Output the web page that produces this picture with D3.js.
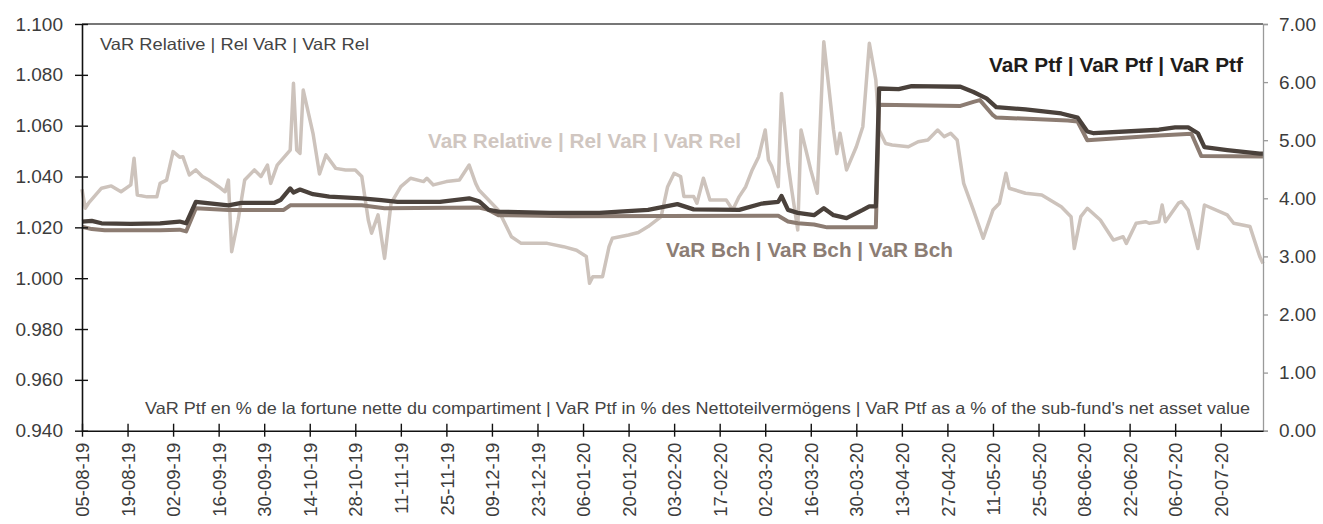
<!DOCTYPE html>
<html><head><meta charset="utf-8">
<script src="https://cdn.jsdelivr.net/npm/d3@7"></script>
<style>body{margin:0;background:#fff} svg{display:block}</style>
</head><body>
<svg id="c" width="1323" height="524"></svg>
<script>
// ---- data ----
const relDates = ["2019-08-05","2019-08-06","2019-08-07","2019-08-11","2019-08-14","2019-08-17","2019-08-20","2019-08-21","2019-08-22","2019-08-25","2019-08-28","2019-08-29","2019-08-31",
"2019-09-02","2019-09-04","2019-09-05","2019-09-07","2019-09-09","2019-09-11","2019-09-13","2019-09-16","2019-09-18","2019-09-19","2019-09-20","2019-09-22","2019-09-24","2019-09-27","2019-09-29",
"2019-10-01","2019-10-02","2019-10-04","2019-10-08","2019-10-09","2019-10-10","2019-10-11","2019-10-12","2019-10-15","2019-10-17","2019-10-19","2019-10-22","2019-10-25","2019-10-28","2019-10-30",
"2019-11-01","2019-11-02","2019-11-04","2019-11-06","2019-11-08","2019-11-11","2019-11-14","2019-11-18","2019-11-19","2019-11-21","2019-11-25","2019-11-29",
"2019-12-02","2019-12-04","2019-12-05","2019-12-11","2019-12-15","2019-12-18","2019-12-26","2019-12-31",
"2020-01-04","2020-01-07","2020-01-08","2020-01-09","2020-01-12","2020-01-14","2020-01-15","2020-01-20","2020-01-23","2020-01-26","2020-01-30",
"2020-02-01","2020-02-03","2020-02-05","2020-02-06","2020-02-09","2020-02-10","2020-02-12","2020-02-14","2020-02-19","2020-02-21","2020-02-23","2020-02-25","2020-02-27","2020-02-29",
"2020-03-02","2020-03-03","2020-03-04","2020-03-06","2020-03-07","2020-03-09","2020-03-10","2020-03-12","2020-03-13","2020-03-16","2020-03-18","2020-03-20","2020-03-23","2020-03-24","2020-03-25","2020-03-27","2020-03-30",
"2020-04-01","2020-04-03","2020-04-05","2020-04-06","2020-04-08","2020-04-10","2020-04-15","2020-04-18","2020-04-21","2020-04-24","2020-04-26","2020-04-28","2020-04-30",
"2020-05-02","2020-05-05","2020-05-08","2020-05-11","2020-05-13","2020-05-15","2020-05-16","2020-05-21","2020-05-26",
"2020-06-01","2020-06-04","2020-06-05","2020-06-07","2020-06-09","2020-06-13","2020-06-17","2020-06-20","2020-06-21","2020-06-24","2020-06-27","2020-06-28",
"2020-07-01","2020-07-02","2020-07-03","2020-07-07","2020-07-08","2020-07-10","2020-07-13","2020-07-15","2020-07-22","2020-07-24","2020-07-29","2020-08-01","2020-08-02"];
const relValues = [1.035,1.0275,1.0295,1.0354,1.0363,1.034,1.0367,1.0472,1.0327,1.032,1.032,1.0373,1.0386,
1.0498,1.0476,1.0478,1.0406,1.0426,1.040,1.0386,1.036,1.034,1.0386,1.0104,1.0229,1.0386,1.0426,1.040,
1.0445,1.0373,1.0445,1.0504,1.0767,1.0504,1.0491,1.074,1.057,1.041,1.0485,1.0432,1.0426,1.0426,1.040,
1.0229,1.0177,1.0249,1.0078,1.0295,1.036,1.0393,1.038,1.0393,1.0367,1.038,1.0386,
1.0445,1.0373,1.0347,1.0267,1.0163,1.0137,1.0137,1.0124,
1.011,1.0085,0.998,1.0006,1.0006,1.0124,1.0157,1.017,1.018,1.0203,1.0242,
1.036,1.0413,1.040,1.0321,1.0321,1.0295,1.0393,1.0308,1.0308,1.0268,1.0321,1.036,1.0426,1.0478,
1.0583,1.0465,1.044,1.036,1.0727,1.0452,1.036,1.019,1.0583,1.0426,1.0334,1.093,1.0583,1.049,1.057,1.0426,1.0517,
1.0596,1.0924,1.078,1.0583,1.053,1.0524,1.0517,1.0537,1.0544,1.0583,1.0557,1.057,1.0544,
1.0373,1.0268,1.0157,1.0268,1.0295,1.0413,1.0354,1.0334,1.0327,
1.0281,1.0242,1.0117,1.0242,1.0275,1.0229,1.015,1.0163,1.0137,1.0216,1.0222,1.0216,
1.0222,1.0288,1.0222,1.0295,1.0301,1.0268,1.0117,1.0288,1.0249,1.0216,1.0203,1.0085,1.0058];

const ptfDates = ["2019-08-05","2019-08-08","2019-08-11","2019-08-20","2019-08-29","2019-09-04","2019-09-06","2019-09-09","2019-09-19","2019-09-23","2019-10-03","2019-10-05","2019-10-08","2019-10-09","2019-10-11","2019-10-15","2019-10-20","2019-10-30","2019-11-05","2019-11-10","2019-11-23","2019-12-02","2019-12-05","2019-12-08","2019-12-11","2019-12-27","2020-01-11","2020-01-26","2020-02-04","2020-02-09","2020-02-23","2020-03-01","2020-03-06","2020-03-07","2020-03-09","2020-03-12","2020-03-17","2020-03-20","2020-03-23","2020-03-27","2020-04-01","2020-04-03","2020-04-05","2020-04-06","2020-04-12","2020-04-16","2020-05-01","2020-05-05","2020-05-09","2020-05-12","2020-05-21","2020-06-01","2020-06-06","2020-06-09","2020-06-11","2020-07-01","2020-07-06","2020-07-10","2020-07-13","2020-07-15","2020-07-22","2020-08-01","2020-08-02"];
const ptfValues = [3.60,3.61,3.57,3.56,3.57,3.60,3.57,3.94,3.88,3.92,3.92,3.97,4.17,4.10,4.15,4.07,4.03,4.00,3.97,3.94,3.94,4.00,3.95,3.80,3.77,3.75,3.75,3.80,3.90,3.81,3.80,3.91,3.94,4.04,3.80,3.75,3.71,3.83,3.71,3.66,3.80,3.86,3.86,5.89,5.88,5.93,5.92,5.83,5.72,5.57,5.53,5.46,5.39,5.15,5.12,5.18,5.22,5.22,5.12,4.88,4.83,4.77,4.77];

const bchDates = ["2019-08-05","2019-08-08","2019-08-12","2019-08-29","2019-09-04","2019-09-06","2019-09-09","2019-09-19","2019-10-06","2019-10-08","2019-10-30","2019-11-03","2019-11-06","2019-12-05","2019-12-08","2019-12-11","2020-01-02","2020-03-06","2020-03-09","2020-03-12","2020-03-17","2020-03-21","2020-04-05","2020-04-06","2020-05-01","2020-05-05","2020-05-07","2020-05-11","2020-05-12","2020-06-03","2020-06-06","2020-06-09","2020-07-01","2020-07-11","2020-07-14","2020-08-02"];
const bchValues = [3.51,3.47,3.45,3.45,3.46,3.43,3.83,3.80,3.80,3.88,3.88,3.85,3.83,3.84,3.80,3.71,3.69,3.70,3.60,3.57,3.55,3.50,3.50,5.61,5.59,5.66,5.69,5.43,5.39,5.34,5.32,5.00,5.08,5.11,4.73,4.72];

const xTickLabels = ["05-08-19","19-08-19","02-09-19","16-09-19","30-09-19","14-10-19","28-10-19","11-11-19","25-11-19","09-12-19","23-12-19","06-01-20","20-01-20","03-02-20","17-02-20","02-03-20","16-03-20","30-03-20","13-04-20","27-04-20","11-05-20","25-05-20","08-06-20","22-06-20","06-07-20","20-07-20"];
const leftTicks = [0.94,0.96,0.98,1.00,1.02,1.04,1.06,1.08,1.10];
const rightTicks = [0,1,2,3,4,5,6,7];

// ---- chart ----
const parse = d3.timeParse("%Y-%m-%d");
const parseTick = d3.timeParse("%d-%m-%y");
const L = 82, R = 1263, T = 24, B = 430.7;
const x = d3.scaleTime().domain([parse("2019-08-05"), parse("2020-08-02")]).range([L, R]);
const yL = d3.scaleLinear().domain([0.94, 1.10]).range([B, T]);
const yR = d3.scaleLinear().domain([0, 7]).range([B, T]);

const svg = d3.select("#c");
const tickFont = "'Liberation Sans', Arial, sans-serif";
const labFont = "'Liberation Sans', Arial, sans-serif";

// top border
svg.append("line").attr("x1", L).attr("x2", R).attr("y1", T).attr("y2", T)
  .attr("stroke", "#4a4a4a").attr("stroke-width", 1.5);

// lines
const mk = (dates, vals) => dates.map((d, i) => ({d: parse(d), v: vals[i]}));
const lineL = d3.line().x(p => x(p.d)).y(p => yL(p.v));
const lineR = d3.line().x(p => x(p.d)).y(p => yR(p.v));
svg.append("path").datum(mk(relDates, relValues)).attr("d", lineL)
  .attr("fill", "none").attr("stroke", "#cdc3bc").attr("stroke-width", 3.5).attr("stroke-linejoin", "round");
svg.append("path").datum(mk(bchDates, bchValues)).attr("d", lineR)
  .attr("fill", "none").attr("stroke", "#8c7c72").attr("stroke-width", 4).attr("stroke-linejoin", "round");
svg.append("path").datum(mk(ptfDates, ptfValues)).attr("d", lineR)
  .attr("fill", "none").attr("stroke", "#4a413b").attr("stroke-width", 4.3).attr("stroke-linejoin", "round");

// left axis
const gL = svg.append("g").attr("transform", `translate(${L},0)`)
  .call(d3.axisLeft(yL).tickValues(leftTicks).tickFormat(d3.format(".3f")).tickSizeOuter(0));
gL.select(".domain").attr("stroke", "#111").attr("stroke-width", 1.6);
gL.selectAll(".tick line").attr("x1", -7).attr("x2", 6).attr("stroke", "#111").attr("stroke-width", 1.4);
gL.selectAll(".tick text").attr("x", -19).attr("font-family", tickFont).attr("font-size", 19).attr("fill", "#3c3c3c");

// right axis
const gR = svg.append("g").attr("transform", `translate(${R},0)`)
  .call(d3.axisRight(yR).tickValues(rightTicks).tickFormat(d3.format(".2f")).tickSizeOuter(0).tickSize(5));
gR.select(".domain").attr("stroke", "#9a9a9a").attr("stroke-width", 1.3);
gR.selectAll(".tick line").attr("stroke", "#9a9a9a").attr("stroke-width", 1.3);
gR.selectAll(".tick text").attr("x", 16).attr("font-family", tickFont).attr("font-size", 19).attr("fill", "#3c3c3c");

// bottom axis
const gB = svg.append("g").attr("transform", `translate(0,${B})`)
  .call(d3.axisBottom(x).tickValues(xTickLabels.map(parseTick)).tickFormat(d3.timeFormat("%d-%m-%y")).tickSizeOuter(0));
gB.select(".domain").attr("stroke", "#111").attr("stroke-width", 1.6);
gB.selectAll(".tick line").attr("y1", -7).attr("y2", 6).attr("stroke", "#111").attr("stroke-width", 1.4);
gB.selectAll(".tick text").attr("transform", "rotate(-90)").attr("x", -12).attr("y", 0).attr("dy", "0.36em")
  .attr("text-anchor", "end").attr("font-family", tickFont).attr("font-size", 18.5).attr("fill", "#3c3c3c");

// annotations
const note = (xp, yp, txt, size, weight, fill, len) =>
  svg.append("text").attr("x", xp).attr("y", yp).text(txt)
    .attr("font-family", labFont).attr("font-size", size).attr("font-weight", weight).attr("fill", fill)
    .attr("textLength", len).attr("lengthAdjust", "spacingAndGlyphs");
note(100, 50, "VaR Relative | Rel VaR | VaR Rel", 16.5, "normal", "#444", 269);
note(428, 148, "VaR Relative | Rel VaR | VaR Rel", 20.5, "bold", "#d0c6c0", 313);
note(989, 72, "VaR Ptf | VaR Ptf | VaR Ptf", 20.5, "bold", "#1f1c1a", 254);
note(666, 257, "VaR Bch | VaR Bch | VaR Bch", 20.5, "bold", "#8c7d74", 287);
note(145, 414, "VaR Ptf en % de la fortune nette du compartiment | VaR Ptf in % des Nettoteilvermögens | VaR Ptf as a % of the sub-fund's net asset value", 16.5, "normal", "#444", 1105);
</script>
</body></html>
